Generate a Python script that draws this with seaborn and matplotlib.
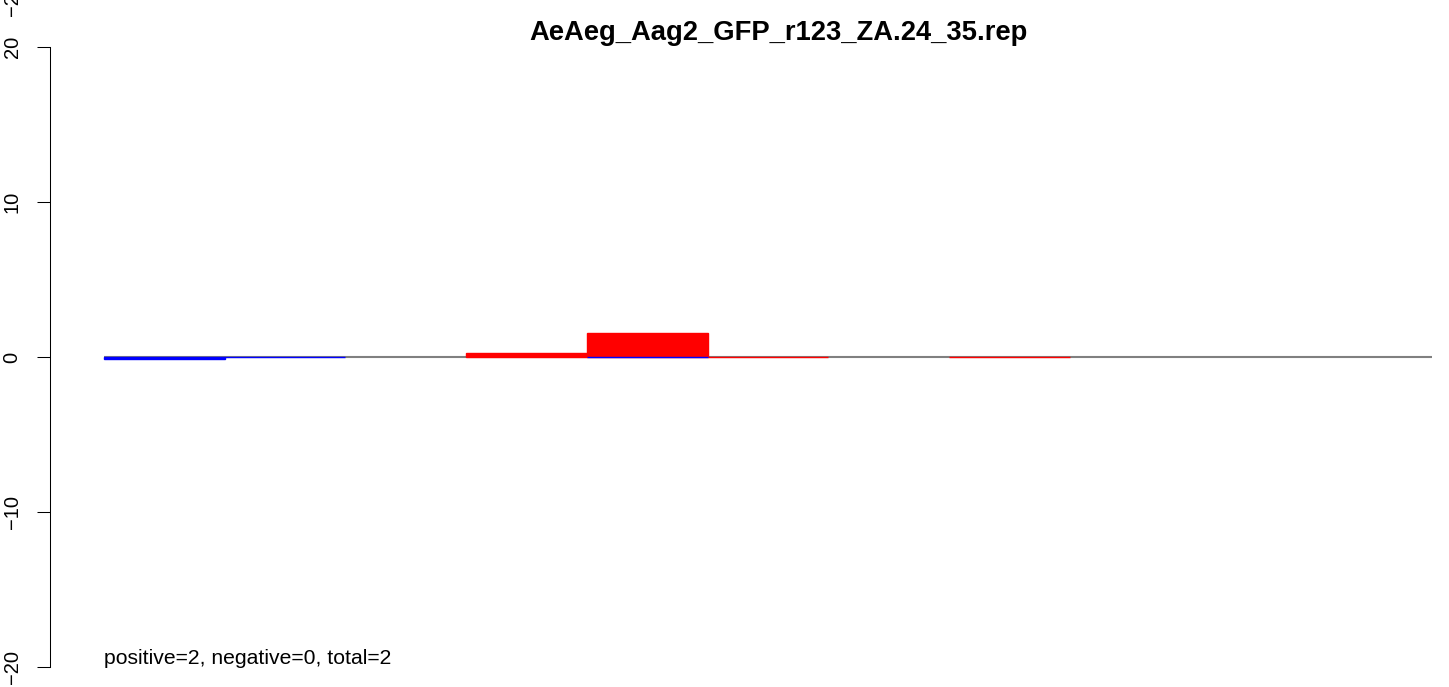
import matplotlib
matplotlib.use("Agg")
import matplotlib.pyplot as plt
import seaborn as sns
import pandas as pd

# read lengths, one bar each
lengths = [24, 25, 26, 27, 28, 29, 30, 31, 32, 33, 34]
positive = [0, 0, 0, 0.25, 1.55, 0.02, 0, 0.02, 0, 0, 0]
negative = [-0.15, -0.03, 0, 0, -0.02, 0, 0, 0, 0, 0, 0]
yticks = [-20, -10, 0, 10, 20]
title = "AeAeg_Aag2_GFP_r123_ZA.24_35.rep"
note = "positive=2, negative=0, total=2"

sns.set_style("white")
plt.rcParams['font.family'] = ['Liberation Sans', 'DejaVu Sans']
plt.rcParams['text.color'] = 'black'
plt.rcParams['ytick.labelcolor'] = 'black'

order = [str(l) for l in lengths]
df = pd.DataFrame({'length': order, 'pos': positive, 'neg': negative})
pos_df = df[df['pos'] != 0]
neg_df = df[df['neg'] != 0]

W, H = 1449, 687
fig = plt.figure(figsize=(W / 100, H / 100), dpi=100)
ax = fig.add_axes([50 / W, 0, (W - 50) / W, (H - 22) / H])

unit = 120.7
ax.hlines(0, -0.5, len(lengths) - 0.5, color='#808080', lw=1.5, zorder=1)

sns.barplot(data=pos_df, x='length', y='pos', order=order, color='#ff0000', saturation=1, width=1,
            edgecolor='#ff0000', linewidth=1, errorbar=None, ax=ax, zorder=2)
sns.barplot(data=neg_df, x='length', y='neg', order=order, color='#0000ff', saturation=1, width=1,
            edgecolor='#0000ff', linewidth=1, errorbar=None, ax=ax, zorder=2)

ax.set_xlim(-0.5 - 54 / unit, -0.5 + (W - 104) / unit)
ax.set_ylim(-(H - 357) / 15.5, (357 - 22) / 15.5)
ax.set_xticks([])
ax.set_xlabel('')
ax.set_ylabel('')
ax.set_yticks(yticks)
ax.set_yticklabels([str(t).replace('-', '\u2212') for t in yticks], rotation=90, va='center', fontsize=14.5)
ax.tick_params(axis='y', left=True, length=9.4, width=0.75, pad=11, color='black')

for s in ['top', 'right', 'bottom']:
    ax.spines[s].set_visible(False)
ax.spines['left'].set_bounds(-20, 20)
ax.spines['left'].set_linewidth(0.75)
ax.spines['left'].set_color('black')

ax.text(-0.5, (357 - 659) / 15.5, note, ha='left', va='center', fontsize=15.2)
fig.text(778 / W, 1 - 33 / H, title, ha='center', va='center', fontsize=19.7, fontweight='bold')
# clipped label left over from the panel above
fig.text(13 / W, 1 - 16 / H, '\u221220', rotation=90, ha='center', va='bottom', fontsize=14.5)

fig.savefig('out.png', dpi=100)
